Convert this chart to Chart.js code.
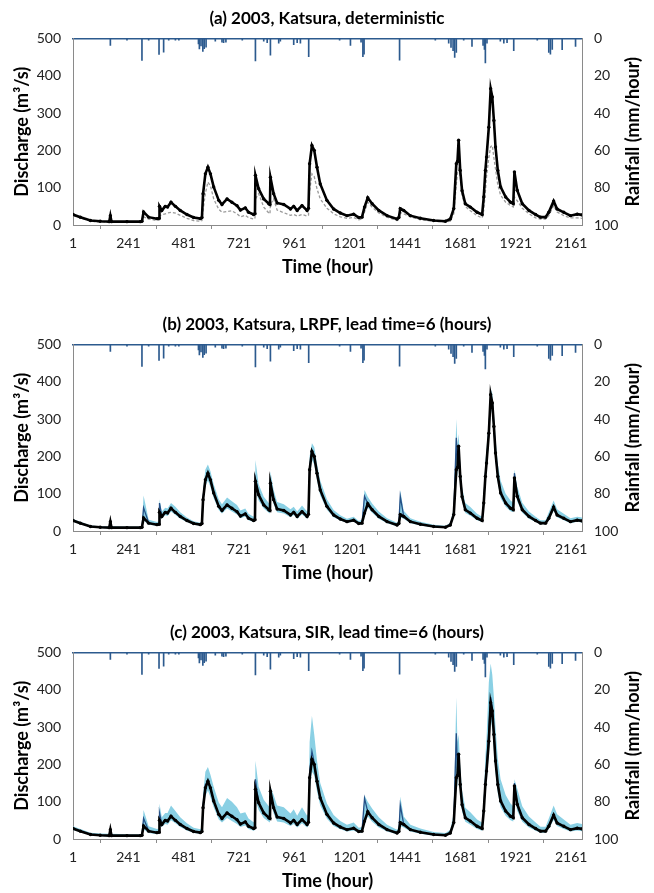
<!DOCTYPE html>
<html>
<head>
<meta charset="utf-8">
<script src="https://cdn.jsdelivr.net/npm/chart.js@4.4.0/dist/chart.umd.min.js"></script>
<style>
  body { margin: 0; background: #fff; }
  #wrap { position: relative; width: 654px; height: 893px; }
  canvas { position: absolute; left: 0; }
</style>
</head>
<body>
<div id="wrap">
  <canvas id="chartA" width="654" height="307" style="top:0px"></canvas>
  <canvas id="chartB" width="654" height="307" style="top:306px"></canvas>
  <canvas id="chartC" width="654" height="307" style="top:614px"></canvas>
</div>
<script>
// time axis labels (hour)
var timeTicks = [1, 241, 481, 721, 961, 1201, 1441, 1681, 1921, 2161];

var hours = [
  1, 33, 77, 119, 158, 163, 168, 235, 293, 300,
  307, 329, 365, 374, 376, 386, 401, 411, 426, 445,
  466, 495, 524, 553, 560, 565, 575, 586, 597, 611,
  633, 647, 669, 690, 712, 727, 748, 762, 784, 790,
  792, 806, 828, 850, 855, 857, 871, 886, 915, 944,
  958, 973, 994, 1016, 1022, 1027, 1037, 1047, 1059, 1073,
  1102, 1131, 1160, 1189, 1218, 1240, 1254, 1265, 1279, 1298,
  1327, 1363, 1406, 1414, 1420, 1435, 1464, 1507, 1565, 1616,
  1637, 1652, 1663, 1668, 1673, 1680, 1688, 1702, 1724, 1753,
  1775, 1782, 1789, 1794, 1804, 1812, 1819, 1826, 1833, 1843,
  1855, 1877, 1898, 1910, 1915, 1927, 1949, 1978, 2007, 2028,
  2050, 2064, 2085, 2100, 2129, 2158, 2187, 2208
];

// observed discharge (m3/s)
var observed = [
  28, 21, 12, 10, 9, 25, 9, 9, 9, 10,
  35, 21, 17, 18, 50, 39, 50, 48, 61, 50,
  39, 28, 20, 17, 20, 84, 137, 155, 137, 102,
  66, 55, 70, 61, 52, 40, 46, 34, 28, 30,
  133, 97, 70, 57, 55, 128, 84, 59, 55, 43,
  50, 39, 52, 39, 45, 164, 213, 200, 155, 110,
  66, 43, 32, 25, 29, 20, 21, 48, 73, 57,
  39, 25, 16, 20, 44, 39, 25, 18, 12, 10,
  16, 44, 164, 170, 227, 146, 92, 57, 48, 34,
  28, 75, 146, 182, 262, 365, 343, 280, 209, 146,
  102, 75, 61, 57, 142, 93, 57, 39, 28, 21,
  21, 34, 64, 43, 34, 25, 29, 27
];

// deterministic simulation (a)
var simulated = [
  25, 19, 10, 8, 7, 8, 7, 7, 7, 8,
  22, 16, 12, 13, 25, 27, 30, 32, 34, 32,
  26, 18, 12, 10, 12, 40, 85, 115, 105, 70,
  42, 34, 36, 38, 30, 22, 26, 20, 16, 17,
  70, 84, 48, 32, 30, 55, 70, 40, 33, 26,
  28, 24, 28, 24, 26, 90, 137, 130, 97, 70,
  45, 30, 22, 18, 20, 14, 16, 35, 61, 48,
  32, 21, 12, 14, 34, 30, 22, 14, 10, 8,
  10, 30, 110, 140, 150, 130, 80, 50, 38, 25,
  19, 40, 90, 130, 180, 210, 213, 180, 150, 107,
  80, 61, 52, 48, 75, 65, 45, 30, 19, 16,
  16, 25, 52, 35, 25, 19, 19, 18
];

// LRPF ensemble range and mean (b)
var lrpfLower = [
  25, 18, 10, 8, 7, 18, 7, 7, 7, 8,
  28, 17, 14, 15, 40, 33, 42, 40, 52, 43,
  33, 24, 17, 14, 16, 70, 120, 135, 118, 88,
  56, 47, 60, 52, 44, 34, 39, 29, 24, 26,
  110, 82, 60, 49, 47, 105, 72, 50, 47, 37,
  43, 33, 44, 33, 38, 140, 190, 178, 135, 95,
  57, 37, 28, 22, 25, 17, 18, 40, 63, 49,
  33, 21, 13, 16, 36, 33, 21, 15, 10, 8,
  13, 36, 140, 150, 195, 125, 78, 48, 41, 29,
  24, 62, 125, 158, 235, 335, 310, 250, 185, 128,
  88, 65, 53, 50, 120, 80, 49, 33, 24, 18,
  18, 28, 54, 37, 29, 21, 25, 23
];
var lrpfUpper = [
  32, 25, 15, 13, 12, 30, 13, 12, 12, 14,
  95, 30, 24, 26, 85, 52, 62, 60, 75, 65,
  50, 36, 26, 22, 28, 110, 165, 178, 160, 125,
  85, 72, 90, 80, 70, 55, 60, 46, 38, 45,
  190, 125, 92, 75, 75, 160, 110, 78, 72, 58,
  65, 52, 68, 52, 62, 200, 235, 225, 180, 135,
  85, 56, 42, 33, 38, 27, 30, 110, 92, 74,
  52, 34, 22, 30, 110, 54, 34, 25, 17, 14,
  22, 62, 300, 230, 260, 180, 118, 75, 64, 46,
  38, 100, 185, 220, 300, 380, 370, 320, 250, 180,
  135, 100, 82, 76, 165, 120, 76, 52, 38, 29,
  29, 50, 82, 58, 46, 34, 38, 36
];
var lrpfMean = [
  28, 21, 12, 10, 9, 24, 9, 9, 9, 10,
  62, 22, 17, 18, 75, 40, 50, 48, 62, 50,
  39, 28, 20, 17, 20, 90, 140, 150, 135, 102,
  66, 55, 70, 61, 52, 40, 46, 34, 28, 32,
  140, 97, 70, 57, 57, 130, 84, 59, 55, 43,
  50, 39, 52, 39, 45, 170, 215, 200, 155, 110,
  66, 43, 32, 25, 29, 20, 21, 93, 73, 57,
  39, 25, 16, 22, 93, 39, 25, 18, 12, 10,
  16, 46, 250, 180, 230, 146, 92, 57, 48, 34,
  28, 80, 150, 185, 265, 362, 343, 280, 209, 146,
  102, 75, 61, 57, 155, 93, 57, 39, 28, 21,
  21, 36, 64, 43, 34, 25, 29, 27
];

// SIR ensemble range and mean (c)
var sirLower = [
  24, 18, 10, 8, 7, 16, 7, 7, 7, 8,
  26, 16, 13, 14, 38, 32, 40, 38, 50, 42,
  32, 23, 16, 14, 16, 65, 115, 130, 112, 85,
  52, 44, 56, 48, 40, 32, 36, 27, 22, 24,
  105, 78, 56, 46, 44, 100, 68, 47, 44, 35,
  40, 31, 42, 31, 36, 130, 180, 170, 128, 90,
  54, 35, 26, 20, 23, 16, 17, 38, 60, 46,
  31, 20, 13, 16, 35, 31, 20, 14, 9, 8,
  12, 34, 130, 145, 185, 118, 74, 46, 38, 27,
  22, 58, 118, 150, 225, 320, 295, 238, 178, 122,
  85, 62, 50, 47, 115, 76, 46, 31, 22, 17,
  17, 27, 51, 35, 27, 20, 23, 21
];
var sirUpper = [
  34, 27, 17, 15, 14, 32, 14, 13, 13, 15,
  78, 34, 27, 28, 95, 58, 70, 70, 90, 75,
  58, 42, 30, 26, 32, 120, 180, 193, 172, 140,
  98, 85, 110, 100, 85, 68, 72, 55, 45, 50,
  210, 140, 105, 88, 85, 140, 118, 90, 85, 68,
  80, 62, 85, 62, 70, 260, 330, 280, 210, 150,
  95, 64, 48, 38, 44, 30, 32, 117, 100, 82,
  58, 38, 25, 32, 114, 60, 38, 28, 19, 16,
  25, 70, 380, 260, 280, 195, 130, 84, 72, 52,
  44, 110, 220, 270, 420, 470, 440, 380, 300, 215,
  160, 118, 95, 88, 160, 135, 88, 60, 44, 33,
  33, 55, 90, 66, 52, 38, 43, 40
];
var sirMean = [
  28, 21, 12, 10, 9, 24, 9, 9, 9, 10,
  55, 22, 17, 18, 70, 40, 50, 48, 62, 50,
  39, 28, 20, 17, 20, 90, 145, 153, 135, 102,
  66, 55, 70, 61, 52, 40, 46, 34, 28, 32,
  160, 97, 70, 57, 57, 125, 84, 59, 55, 43,
  50, 39, 52, 39, 45, 180, 235, 205, 155, 110,
  66, 43, 32, 25, 29, 20, 21, 109, 73, 57,
  39, 25, 16, 22, 90, 39, 25, 18, 12, 10,
  16, 46, 283, 185, 230, 146, 92, 57, 48, 34,
  28, 80, 155, 190, 290, 380, 350, 285, 212, 146,
  102, 75, 61, 57, 150, 93, 57, 39, 28, 21,
  21, 36, 64, 43, 34, 25, 29, 27
];

// hourly rainfall events (mm/hour)
var rainHours = [
  163, 235, 300, 329, 374, 394, 416, 445, 460, 545,
  549, 556, 564, 570, 578, 618, 647, 654, 664, 735,
  792, 828, 843, 857, 893, 900, 958, 973, 987, 1023,
  1157, 1204, 1250, 1258, 1263, 1417, 1572, 1630, 1640, 1649,
  1656, 1663, 1695, 1731, 1779, 1785, 1789, 1796, 1854, 1869,
  1883, 1912, 2014, 2064, 2071, 2079, 2122, 2180
];
var rainMm = [
  3.7, 1, 11.8, 1, 8.6, 7.4, 1, 1, 1, 3,
  5.7, 4, 7, 5.5, 4.7, 1.5, 2, 2.3, 2, 1,
  12.1, 1.5, 2.3, 9, 2.5, 1.5, 3.3, 2.3, 2.5, 9.8,
  1, 3.7, 2, 9.8, 8.4, 11.6, 1, 2.5, 4.8, 6.6,
  10.2, 7.5, 1, 4.3, 3.7, 5.9, 13.1, 2.5, 1.5, 2.5,
  2.3, 6.6, 1, 7.5, 8.4, 5.9, 6.1, 4.3
];

var FONT = "Lato, 'Open Sans', sans-serif";
var RAIN_COLOR = '#2c5a8e';
var AXIS_COLOR = '#8a8a8a';
var BAND_COLOR = 'rgb(138, 208, 228)';

function pts(ys) {
    return hours.map(function (h, i) { return { x: h, y: ys[i] }; });
}

var rainData = rainHours.map(function (h, i) { return { x: h, y: rainMm[i] }; });

// right axis title reads bottom-to-top, like the left one
var rightTitle = {
    id: 'rightTitle',
    afterDraw: function (chart) {
        var s = chart.scales.rain;
        var ctx = chart.ctx;
        ctx.save();
        ctx.translate(633, (s.top + s.bottom) / 2);
        ctx.rotate(-Math.PI / 2);
        ctx.font = 'bold 18px ' + FONT;
        ctx.fillStyle = '#000';
        ctx.textAlign = 'center';
        ctx.textBaseline = 'middle';
        ctx.fillText('Rainfall (mm/hour)', 0, 0);
        ctx.restore();
    }
};

function makeChart(id, title, extra) {
    var datasets = [{
        label: 'Observed',
        data: pts(observed),
        borderColor: '#000',
        backgroundColor: '#000',
        borderWidth: 2.6,
        pointRadius: 1.7,
        pointBorderWidth: 0,
        yAxisID: 'y'
    }].concat(extra).concat([{
        type: 'bar',
        label: 'Rainfall',
        data: rainData,
        backgroundColor: RAIN_COLOR,
        barThickness: 1,
        borderWidth: 0,
        yAxisID: 'rain',
        xAxisID: 'x'
    }]);

    var tickFont = { family: FONT, size: 14 };
    var titleFont = { family: FONT, size: 17, weight: 'bold' };
    var axisTitleFont = { family: FONT, size: 18, weight: 'bold' };
    var plain = function (v) { return String(v); };

    return new Chart(document.getElementById(id), {
        type: 'line',
        data: { datasets: datasets },
        plugins: [rightTitle],
        options: {
            responsive: false,
            animation: false,
            parsing: false,
            normalized: true,
            layout: { padding: 0 },
            elements: { line: { tension: 0 } },
            plugins: {
                legend: { display: false },
                tooltip: { enabled: false },
                title: {
                    display: true,
                    text: title,
                    color: '#000',
                    font: titleFont,
                    padding: { top: 8, bottom: 10 }
                }
            },
            scales: {
                x: {
                    type: 'linear',
                    position: 'bottom',
                    min: 1,
                    max: 2208,
                    offset: false,
                    afterBuildTicks: function (s) {
                        s.ticks = timeTicks.map(function (v) { return { value: v }; });
                    },
                    afterFit: function (s) { s.height = 82; },
                    ticks: { font: tickFont, color: '#222', padding: 6, maxRotation: 0, autoSkip: false, callback: plain },
                    grid: { drawOnChartArea: false, tickLength: 4, color: AXIS_COLOR },
                    border: { color: AXIS_COLOR },
                    title: {
                        display: true,
                        text: 'Time (hour)',
                        color: '#000',
                        font: axisTitleFont,
                        padding: { top: 0, bottom: 29 }
                    }
                },
                xTop: {
                    type: 'linear',
                    position: 'top',
                    afterFit: function (s) { s.height = 0; },
                    ticks: { display: false },
                    grid: { display: false, drawTicks: false },
                    border: { color: RAIN_COLOR, width: 1.5 }
                },
                y: {
                    type: 'linear',
                    position: 'left',
                    min: 0,
                    max: 500,
                    afterFit: function (s) { s.width = 73; },
                    ticks: { stepSize: 100, font: tickFont, color: '#222', padding: 12, callback: plain },
                    grid: { drawOnChartArea: false, drawTicks: false },
                    border: { color: AXIS_COLOR },
                    title: {
                        display: true,
                        text: 'Discharge (m³/s)',
                        color: '#000',
                        font: axisTitleFont,
                        padding: { top: 11, bottom: 0 }
                    }
                },
                rain: {
                    type: 'linear',
                    position: 'right',
                    reverse: true,
                    min: 0,
                    max: 100,
                    afterFit: function (s) { s.width = 72; },
                    ticks: { stepSize: 20, font: tickFont, color: '#222', padding: 12, callback: plain },
                    grid: { drawOnChartArea: false, drawTicks: false },
                    border: { color: AXIS_COLOR }
                }
            }
        }
    });
}

function bandSets(lower, upper, mean) {
    return [{
        label: 'Mean',
        data: pts(mean),
        borderColor: '#244f86',
        borderWidth: 1.3,
        pointRadius: 0,
        yAxisID: 'y'
    }, {
        label: 'Upper',
        data: pts(upper),
        borderWidth: 0,
        borderColor: BAND_COLOR,
        backgroundColor: BAND_COLOR,
        pointRadius: 0,
        fill: '+1',
        yAxisID: 'y'
    }, {
        label: 'Lower',
        data: pts(lower),
        borderWidth: 0,
        borderColor: BAND_COLOR,
        pointRadius: 0,
        fill: false,
        yAxisID: 'y'
    }];
}

makeChart('chartA', '(a) 2003, Katsura, deterministic', [{
    label: 'Simulated',
    data: pts(simulated),
    borderColor: '#9a9a9a',
    borderWidth: 1.3,
    borderDash: [3, 2],
    pointRadius: 0,
    yAxisID: 'y'
}]);
makeChart('chartB', '(b) 2003, Katsura, LRPF, lead time=6 (hours)', bandSets(lrpfLower, lrpfUpper, lrpfMean));
makeChart('chartC', '(c) 2003, Katsura, SIR, lead time=6 (hours)', bandSets(sirLower, sirUpper, sirMean));
</script>
</body>
</html>
